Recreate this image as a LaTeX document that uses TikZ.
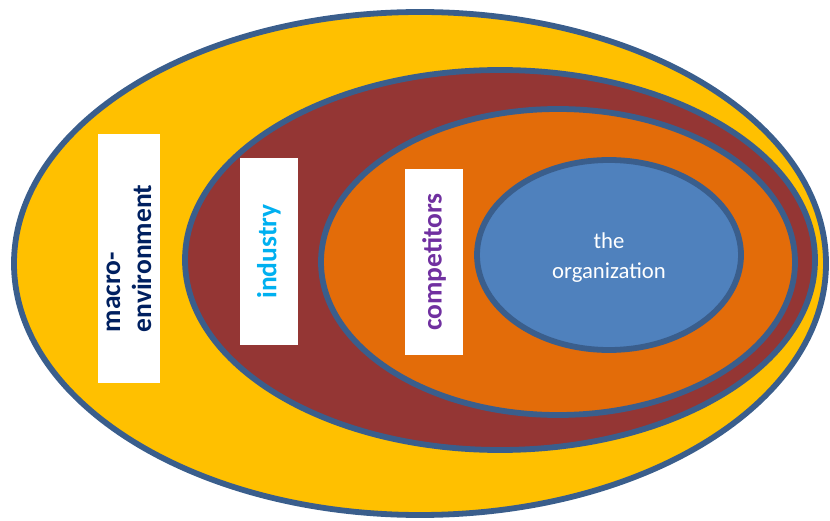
\documentclass[tikz,border=0pt]{standalone}
\usepackage{fontspec}
\setmainfont{Carlito}
\begin{document}
\definecolor{rim}{HTML}{3A5E8C}
\definecolor{macrofill}{HTML}{FFC000}
\definecolor{industryfill}{HTML}{943634}
\definecolor{compfill}{HTML}{E36C09}
\definecolor{orgfill}{HTML}{4F81BD}
\definecolor{macrotext}{HTML}{002060}
\definecolor{industrytext}{HTML}{00B0F0}
\definecolor{comptext}{HTML}{7030A0}
\begin{tikzpicture}[x=1pt,y=-1pt,
  ring/.style={draw=rim,line width=5.8pt},
  tag/.style={fill=white,rotate=90,inner sep=0pt,align=left,
    font=\fontsize{27.5}{31}\selectfont\bfseries},
]
\useasboundingbox (0,0) rectangle (830,521);
% nested environment layers, outermost first
\path[ring,fill=macrofill] (420,263.5) ellipse [x radius=406,y radius=251.5];
\path[ring,fill=industryfill] (500,260) ellipse [x radius=315,y radius=190];
\path[ring,fill=compfill] (558,262) ellipse [x radius=237,y radius=153];
\path[ring,fill=orgfill] (609,255) ellipse [x radius=132,y radius=95];
\node[text=white,align=center,font=\fontsize{22.7}{30}\selectfont] (org) at (609,258) {the\\organization};
% layer labels on white panels
\node[tag,text=macrotext,minimum width=249,minimum height=62] (macro) at (129,258.5) {macro-\\environment};
\node[tag,text=industrytext,minimum width=187,minimum height=58] (industry) at (269,251.5) {industry};
\node[tag,text=comptext,minimum width=186,minimum height=58] (comp) at (434,262) {competitors};
\end{tikzpicture}
\end{document}
